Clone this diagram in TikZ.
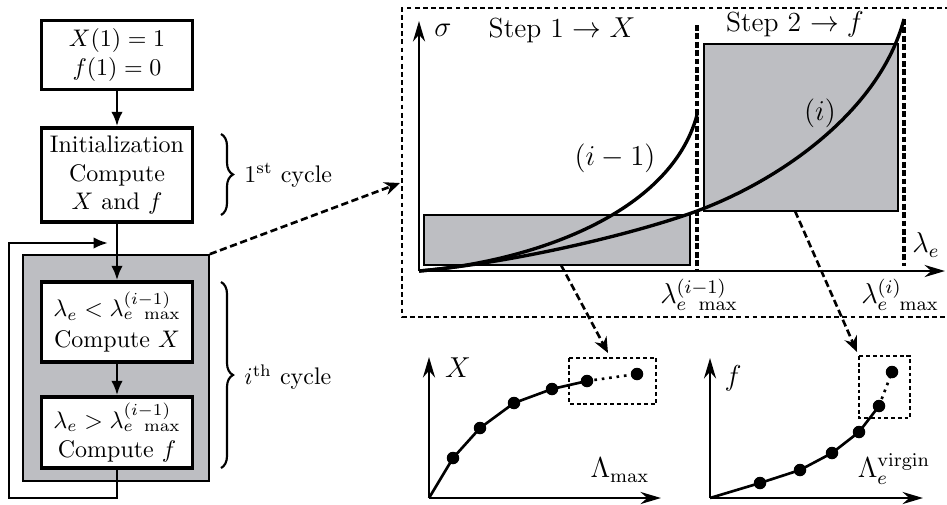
\documentclass[tikz,border=0pt]{standalone}
\usetikzlibrary{arrows.meta,decorations.pathreplacing,calc}
\definecolor{boxgray}{RGB}{189,190,194}
\begin{document}
\begin{tikzpicture}[x=0.41667pt,y=-0.41667pt,
  fbox/.style={draw,line width=1.5pt,fill=white,align=center,inner sep=0pt,minimum width=63pt},
  flow/.style={line width=1.1pt,-{Latex[length=6pt,width=4.8pt]}},
  plainline/.style={line width=1.1pt},
  brc/.style={decorate,decoration={brace,amplitude=5pt},line width=0.9pt},
  axis/.style={line width=1.2pt,-{Stealth[length=8.5pt,width=5pt]}},
  curve/.style={line width=1.4pt},
  vdash/.style={line width=1.4pt,dash pattern=on 2.4pt off 1.1pt},
  frame/.style={line width=0.7pt,dash pattern=on 2pt off 1.4pt},
  smallframe/.style={line width=0.6pt,dash pattern=on 1.6pt off 1.2pt},
  zoomarrow/.style={line width=1.1pt,dash pattern=on 3pt off 1.5pt,-{Stealth[length=6.5pt,width=5.5pt]}},
  graybox/.style={fill=boxgray,draw,line width=0.7pt},
  lbl/.style={font=\fontsize{11.5}{13.5}\selectfont,inner sep=0pt},
  dot/.style={circle,fill,inner sep=0pt,minimum size=5.2pt},
]
\useasboundingbox (0,0) rectangle (947,504);

% ---------------- flowchart ----------------
\node[graybox,minimum width=77.5pt,minimum height=94.2pt] (g) at (116,368) {};
\node[fbox,minimum height=28.75pt] (b1) at (117,55) {$X(1)=1$\\$f(1)=0$};
\node[fbox,minimum height=39.2pt] (b2) at (117,175) {Initialization\\Compute\\$X$ and $f$};
\node[fbox,minimum height=33.3pt] (b3) at (117,322) {$\lambda_e<\lambda_{e\ \max}^{(i-1)}$\\[1pt]Compute $X$};
\node[fbox,minimum height=29.6pt] (b4) at (117,432.5) {$\lambda_e>\lambda_{e\ \max}^{(i-1)}$\\Compute $f$};

\draw[flow] (b1) -- (b2);
\draw[flow] (b2) -- (b3);
\draw[flow] (b3) -- (b4);
\coordinate (ll) at (9,498);
\coordinate (lt) at (9,243);
\coordinate (join) at (108,243);
\draw[flow] (b4.south) |- (ll) -- (lt) -- (join);

\coordinate (br1a) at (221,134);
\coordinate (br1b) at (221,215);
\coordinate (br2a) at (221,282);
\coordinate (br2b) at (221,468);
\draw[brc] (br1a) -- (br1b);
\draw[brc] (br2a) -- (br2b);
\node[anchor=west] (c1) at (236,175) {1$^{\rm st}$ cycle};
\node[anchor=west] (ci) at (236,377) {$i^{\rm th}$ cycle};

% ---------------- top plot ----------------
\draw[frame] (950,8) -- (402,8) -- (402,317) -- (950,317);
\draw[graybox] (424,215) rectangle (690,265);
\draw[graybox] (704,44) rectangle (898,211);
\coordinate (O) at (419,271);
\coordinate (ytip) at (419,21);
\coordinate (xtip) at (945,271);
\draw[axis] (O) -- (ytip);
\draw[axis] (O) -- (xtip);
\coordinate (v1t) at (697,25);
\coordinate (v1b) at (697,271);
\coordinate (v2t) at (904,19);
\coordinate (v2b) at (904,266);
\draw[vdash] (v1t) -- (v1b);
\draw[vdash] (v2t) -- (v2b);
\coordinate (ce1) at (697,115);
\coordinate (cm) at (697,211);
\coordinate (ce2) at (904,19);
\draw[curve] (O) .. controls (530,262) and (670,215) .. (ce1);
\draw[curve] (O) .. controls (520,262) and (640,232) .. (cm)
                 .. controls (782,179.5) and (880,110) .. (ce2);

\node[lbl] (sig) at (443,30) {$\sigma$};
\node[lbl] (s1) at (562,30) {Step 1 $\rightarrow X$};
\node[lbl] (s2) at (795,24) {Step 2 $\rightarrow f$};
\node[lbl] (li1) at (615,158) {$(i-1)$};
\node[lbl] (li) at (820,113) {$(i)$};
\node[lbl] (le) at (926,245) {$\lambda_e$};
\node[lbl] (lm1) at (699,295) {$\lambda_{e\ \max}^{(i-1)}$};
\node[lbl] (lm) at (900,295) {$\lambda_{e\ \max}^{(i)}$};

% ---------------- bottom X plot ----------------
\coordinate (XO) at (429,498);
\coordinate (Xy) at (429,357);
\coordinate (Xx) at (661,498);
\draw[axis] (XO) -- (Xy);
\draw[axis] (XO) -- (Xx);
\draw[smallframe] (569,358) rectangle (656,404);
\coordinate (x1) at (453,458);
\coordinate (x2) at (480,428);
\coordinate (x3) at (514,403);
\coordinate (x4) at (552,389);
\coordinate (x5) at (587,381);
\coordinate (x6) at (637,374);
\draw[plainline] (XO) -- (x1) -- (x2) -- (x3) -- (x4) -- (x5);
\draw[plainline,dotted] (x5) -- (x6);
\foreach \p in {x1,x2,x3,x4,x5,x6} \node[dot] (d\p) at (\p) {};
\node[lbl] (lX) at (458,368) {$X$};
\node[lbl] (lL) at (620,470) {$\Lambda_{\max}$};

% ---------------- bottom f plot ----------------
\coordinate (FO) at (710,498);
\coordinate (Fy) at (710,358);
\coordinate (Fx) at (923,498);
\draw[axis] (FO) -- (Fy);
\draw[axis] (FO) -- (Fx);
\draw[smallframe] (859,356) rectangle (910,418);
\coordinate (f1) at (760,483);
\coordinate (f2) at (800,470);
\coordinate (f3) at (832,453);
\coordinate (f4) at (859,432);
\coordinate (f5) at (879,406);
\coordinate (f6) at (892,372);
\draw[plainline] (FO) -- (f1) -- (f2) -- (f3) -- (f4) -- (f5);
\draw[plainline,dotted] (f5) -- (f6);
\foreach \p in {f1,f2,f3,f4,f5,f6} \node[dot] (d\p) at (\p) {};
\node[lbl] (lf) at (733,378) {$f$};
\node[lbl] (lV) at (894,469) {$\Lambda_e^{\mathrm{virgin}}$};

% ---------------- zoom arrows ----------------
\coordinate (r1b) at (561,265);
\coordinate (r2b) at (795,211);
\coordinate (zin) at (400,183);
\coordinate (xzt) at (608,353);
\coordinate (fzt) at (857,352);
\draw[zoomarrow] (g.north east) -- (zin);
\draw[zoomarrow] (r1b) -- (xzt);
\draw[zoomarrow] (r2b) -- (fzt);
\end{tikzpicture}
\end{document}
